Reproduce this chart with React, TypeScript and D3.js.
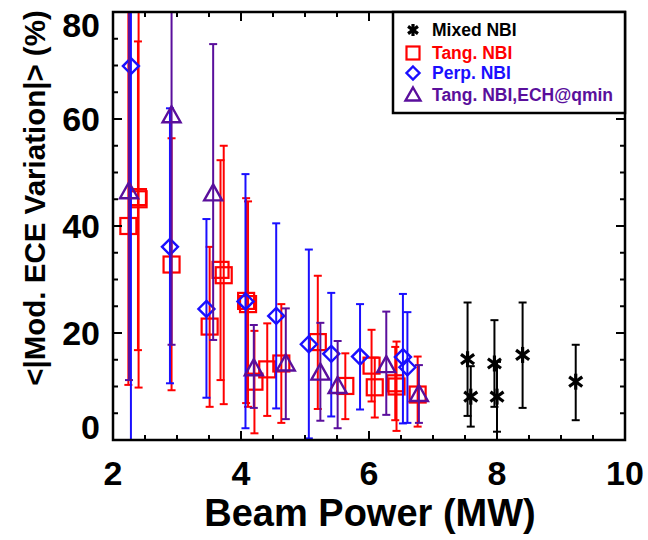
import React from "react";
import * as d3 from "d3";

// ---- Data ----
// Mixed NBI (black asterisks)
const mixedPower = [7.54, 7.59, 7.96, 8.0, 8.4, 9.23];
const mixedValue = [15.1, 8.1, 14.3, 8.1, 15.9, 10.9];
const mixedLow = [4.5, 2.5, 6.2, 1.55, 6.0, 3.7];
const mixedHigh = [25.7, 13.8, 22.4, 14.6, 25.7, 17.8];

// Tang. NBI (red squares)
const tangPower = [2.24, 2.39, 2.4, 2.915, 3.51, 3.68, 3.73, 4.08, 4.11, 4.21, 4.41, 4.63, 5.2, 5.63, 6.04, 6.09, 6.41, 6.43, 6.76];
const tangValue = [40.0, 45.4, 45.0, 32.8, 21.2, 31.8, 30.8, 26.0, 25.4, 10.9, 13.2, 14.3, 18.3, 10.1, 13.9, 9.85, 10.6, 10.0, 8.5];
const tangLow = [10.3, 16.8, 9.8, 9.3, 6.2, 11.2, 6.7, 6.9, 6.2, 1.25, 4.5, 3.2, 5.8, 3.9, 7.2, 4.2, 3.7, 1.7, 2.5];
const tangHigh = [85, 74.5, 85, 56.4, 36.1, 52.3, 55.0, 45.2, 44.6, 20.4, 21.8, 25.4, 30.7, 16.2, 20.6, 15.4, 17.4, 18.4, 15.6];

// Perp. NBI (blue diamonds)
const perpPower = [2.28, 2.89, 3.46, 4.07, 4.55, 5.06, 5.41, 5.86, 6.53, 6.6];
const perpValue = [69.9, 36.1, 24.5, 25.9, 23.2, 17.9, 16.1, 15.6, 15.5, 13.6];
const perpLow = [-10, 10.6, 7.9, 2.2, 5.9, 0.3, 4.4, 5.7, 3.1, 3.2];
const perpHigh = [150, 62.0, 41.3, 49.7, 40.5, 35.6, 27.5, 25.4, 27.3, 23.9];

// Tang. NBI, ECH@qmin (purple triangles)
const echPower = [2.25, 2.915, 3.565, 4.2, 4.7, 5.24, 5.51, 6.27, 6.78];
const echValue = [46.5, 60.7, 46.1, 13.4, 14.3, 12.6, 10.1, 14.0, 8.6];
const echLow = [11.2, 17.8, 18.7, 6.0, 3.9, 3.6, 2.2, 4.7, 3.2];
const echHigh = [85, 104, 74.0, 21.5, 24.6, 21.9, 18.5, 24.0, 14.0];

const xTicks = [2, 4, 6, 8, 10];
const yTicks = [0, 20, 40, 60, 80];
const legendLabels = ["Mixed NBI", "Tang. NBI", "Perp. NBI", "Tang. NBI,ECH@qmin"];

const W = 648, H = 540;
const L = 113, R = 625, T = 12, B = 440;
const FONT = "'Liberation Sans', Arial, Helvetica, sans-serif";

const RED = "#ff0000";
const BLUE = "#1a0fff";
const PURPLE = "#5a0f9c";
const BLACK = "#000000";

type Sym = "star" | "square" | "diamond" | "triangle";

function Marker({ x, y, sym, color, s = 8 }: { x: number; y: number; sym: Sym; color: string; s?: number }) {
  if (sym === "square") {
    return <rect x={x - s} y={y - s} width={2 * s} height={2 * s} fill="none" stroke={color} strokeWidth={2.2} />;
  }
  if (sym === "diamond") {
    const p = `${x},${y - s} ${x + s},${y} ${x},${y + s} ${x - s},${y}`;
    return <polygon points={p} fill="none" stroke={color} strokeWidth={2.4} />;
  }
  if (sym === "triangle") {
    const p = `${x},${y - s - 1} ${x + s + 1},${y + s - 1} ${x - s - 1},${y + s - 1}`;
    return <polygon points={p} fill="none" stroke={color} strokeWidth={2.4} />;
  }
  const dx = s * 0.82, dy = s * 0.6;
  return (
    <g stroke={color} strokeWidth={3.2}>
      <line x1={x} y1={y - s} x2={x} y2={y + s} />
      <line x1={x - dx} y1={y - dy} x2={x + dx} y2={y + dy} />
      <line x1={x - dx} y1={y + dy} x2={x + dx} y2={y - dy} />
    </g>
  );
}

export default function App() {
  const x = d3.scaleLinear().domain([2, 10]).range([L, R]);
  const y = d3.scaleLinear().domain([0, 80]).range([B, T]);

  const series = [
    { name: legendLabels[1], sym: "square" as Sym, color: RED, p: tangPower, v: tangValue, lo: tangLow, hi: tangHigh },
    { name: legendLabels[2], sym: "diamond" as Sym, color: BLUE, p: perpPower, v: perpValue, lo: perpLow, hi: perpHigh },
    { name: legendLabels[3], sym: "triangle" as Sym, color: PURPLE, p: echPower, v: echValue, lo: echLow, hi: echHigh },
    { name: legendLabels[0], sym: "star" as Sym, color: BLACK, p: mixedPower, v: mixedValue, lo: mixedLow, hi: mixedHigh },
  ];

  const xMinor = d3.range(2, 10.01, 0.5);
  const yMinor = d3.range(0, 80.01, 5);
  const cap = 4;

  const legendItems = [
    { label: legendLabels[0], sym: "star" as Sym, color: BLACK, yy: 30 },
    { label: legendLabels[1], sym: "square" as Sym, color: RED, yy: 53 },
    { label: legendLabels[2], sym: "diamond" as Sym, color: BLUE, yy: 73 },
    { label: legendLabels[3], sym: "triangle" as Sym, color: PURPLE, yy: 95 },
  ];

  return (
    <svg width={W} height={H} style={{ position: "absolute", left: 0, top: 0, background: "#fff" }} fontFamily={FONT}>
      <defs>
        <clipPath id="plotclip">
          <rect x={L} y={T} width={R - L} height={B - T} />
        </clipPath>
      </defs>
      <rect x={0} y={0} width={W} height={H} fill="#fff" />

      <g clipPath="url(#plotclip)">
        {series.map((s, si) => (
          <g key={si}>
            {s.p.map((p, i) => {
              const px = x(p);
              return (
                <g key={i} stroke={s.color} strokeWidth={2}>
                  <line x1={px} x2={px} y1={y(s.lo[i])} y2={y(s.hi[i])} />
                  <line x1={px - cap} x2={px + cap} y1={y(s.lo[i])} y2={y(s.lo[i])} />
                  <line x1={px - cap} x2={px + cap} y1={y(s.hi[i])} y2={y(s.hi[i])} />
                </g>
              );
            })}
            {s.p.map((p, i) => (
              <Marker key={"m" + i} x={x(p)} y={y(s.v[i])} sym={s.sym} color={s.color} />
            ))}
          </g>
        ))}
      </g>

      {/* ticks */}
      <g stroke="#000" strokeWidth={2}>
        {xMinor.map((t, i) => {
          const major = Math.abs(t - Math.round(t / 2) * 2) < 1e-6;
          const len = major ? 9 : 5;
          return (
            <g key={"xt" + i}>
              <line x1={x(t)} x2={x(t)} y1={B} y2={B - len} />
              <line x1={x(t)} x2={x(t)} y1={T} y2={T + len} />
            </g>
          );
        })}
        {yMinor.map((t, i) => {
          const major = t % 20 === 0;
          const len = major ? 9 : 5;
          return (
            <g key={"yt" + i}>
              <line x1={L} x2={L + len} y1={y(t)} y2={y(t)} />
              <line x1={R} x2={R - len} y1={y(t)} y2={y(t)} />
            </g>
          );
        })}
      </g>

      {/* frame */}
      <rect x={L} y={T} width={R - L} height={B - T} fill="none" stroke="#000" strokeWidth={2.5} />

      {/* tick labels */}
      {xTicks.map((t) => (
        <text key={"xl" + t} x={x(t)} y={485} textAnchor="middle" fontSize={34} fontWeight="bold" fill="#000">
          {t}
        </text>
      ))}
      {yTicks.map((t) => {
        const cy = Math.max(T + 13, Math.min(B - 13, y(t)));
        return (
          <text key={"yl" + t} x={100} y={cy + 12} textAnchor="end" fontSize={34} fontWeight="bold" fill="#000">
            {t}
          </text>
        );
      })}

      {/* axis titles */}
      <text x={370} y={526} textAnchor="middle" fontSize={38} fontWeight="bold" fill="#000">
        Beam Power (MW)
      </text>
      <text transform={`translate(45,198) rotate(-90)`} textAnchor="middle" fontSize={29.5} fontWeight="bold" fill="#000">
        {"<|Mod. ECE Variation|> (%)"}
      </text>

      {/* legend */}
      <rect x={393} y={12} width={R - 393} height={101} fill="#fff" stroke="#000" strokeWidth={2.5} />
      {legendItems.map((it, i) => (
        <g key={"lg" + i}>
          <Marker x={413} y={it.yy} sym={it.sym} color={it.color} s={it.sym === "star" ? 6 : 6.5} />
          <text x={432} y={it.yy + 6} fontSize={17.5} fontWeight="bold" fill={it.color}>
            {it.label}
          </text>
        </g>
      ))}
    </svg>
  );
}
